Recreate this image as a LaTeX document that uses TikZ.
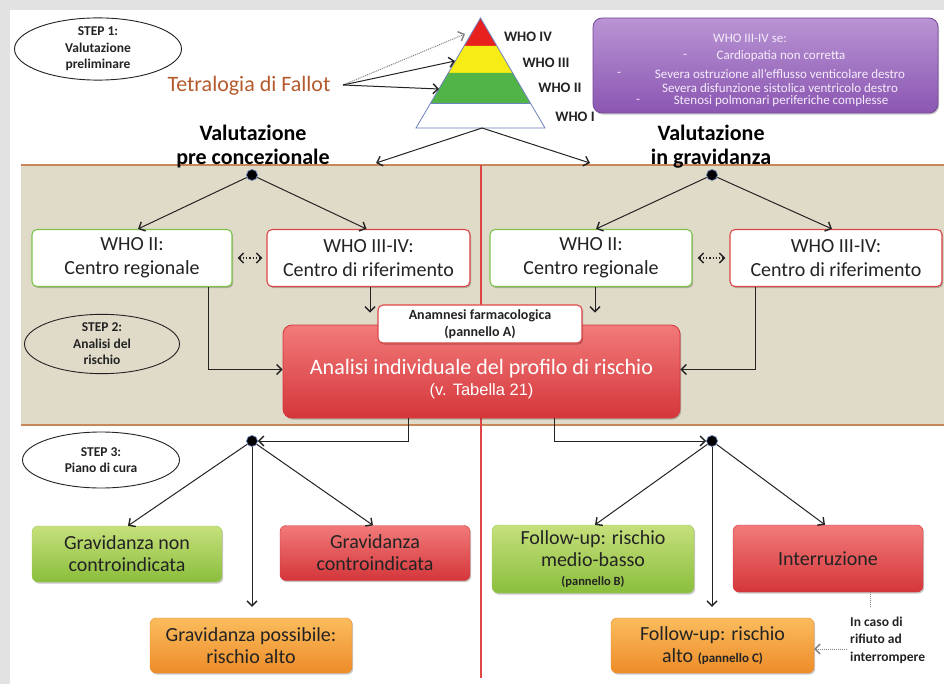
\documentclass[tikz,border=0pt]{standalone}
\usepackage{fontspec}
\setmainfont{Carlito}
\newfontfamily\arialfont{Liberation Sans}
\usetikzlibrary{arrows.meta,shadows,shapes.geometric}

\definecolor{panelgray}{RGB}{226,226,226}
\definecolor{bandfill}{RGB}{224,219,201}
\definecolor{bandline}{RGB}{200,135,90}
\definecolor{divred}{RGB}{222,70,70}
\definecolor{fallot}{RGB}{180,90,45}
\definecolor{boxgreen}{RGB}{125,195,75}
\definecolor{boxred}{RGB}{220,70,70}
\definecolor{greentop}{RGB}{198,224,124}
\definecolor{greenbot}{RGB}{138,190,60}
\definecolor{redtop}{RGB}{242,122,122}
\definecolor{redbot}{RGB}{212,54,58}
\definecolor{orangetop}{RGB}{250,188,94}
\definecolor{orangebot}{RGB}{238,140,40}
\definecolor{purptop}{RGB}{186,148,212}
\definecolor{purpbot}{RGB}{138,86,178}
\definecolor{purptext}{RGB}{245,236,250}
\definecolor{whoRed}{RGB}{232,32,30}
\definecolor{whoYellow}{RGB}{246,236,22}
\definecolor{whoGreen}{RGB}{80,180,70}
\definecolor{pyrline}{RGB}{110,130,190}
\definecolor{inkdark}{RGB}{35,35,35}

\newcommand{\fsz}[2]{\fontsize{#1}{#2}\selectfont}

\tikzset{
  ink/.style={draw=inkdark, line width=1pt},
  conn/.style={ink, -{Straight Barb[length=5pt,width=10pt,line width=1.4pt]}},
  hub/.style={circle, fill=black, draw=pyrline, line width=0.7pt, minimum size=11pt, inner sep=0pt},
  softshadow/.style={drop shadow={shadow xshift=1.2pt, shadow yshift=-1.6pt, opacity=0.22, fill=black}},
  centre/.style={rounded corners=5pt, fill=white, line width=1.1pt, minimum height=57pt,
    inner sep=0pt, align=center, text=inkdark, font=\fsz{20}{24}, softshadow},
  regional/.style={centre, draw=boxgreen},
  reference/.style={centre, draw=boxred},
  outcome/.style={rounded corners=6pt, inner sep=0pt, align=center, text=inkdark,
    font=\fsz{20}{22}, softshadow},
  okbox/.style={outcome, top color=greentop, bottom color=greenbot, draw=greenbot!80!white},
  nobox/.style={outcome, top color=redtop, bottom color=redbot, draw=redbot},
  riskbox/.style={outcome, top color=orangetop, bottom color=orangebot, draw=orangebot},
  stepoval/.style={ellipse, draw=inkdark, line width=0.9pt, inner sep=0pt, align=center,
    font=\bfseries\fsz{13.5}{16.5}, text=inkdark},
  whotag/.style={font=\bfseries\fsz{14.5}{16}, text=inkdark},
  heading/.style={font=\bfseries\fsz{22}{24}, align=center, text=black},
  infoline/.style={font=\fsz{13}{15}, text=purptext},
  twoway/.style={draw=inkdark, dotted, line width=1.3pt,
    {Straight Barb[length=5pt,width=10pt,line width=1.5pt]}-{Straight Barb[length=5pt,width=10pt,line width=1.5pt]}},
}

\begin{document}
\begin{tikzpicture}[x=1pt, y=-1pt]
\useasboundingbox (0,0) rectangle (944,684);

% page panel
\fill[panelgray] (0,0) rectangle (944,684);
\fill[white] (10,10) rectangle (944,684);

% risk-analysis band and column divider
\fill[bandfill] (21,165) rectangle (944,425);
\draw[bandline, line width=1.3pt] (21,165) -- (944,165);
\draw[bandline, line width=1.3pt] (21,425) -- (944,425);
\draw[divred, line width=1.6pt] (481,165) -- (481,678);

% ---------- step 1 ----------
\node[stepoval, minimum width=167pt, minimum height=58pt] (step1) at (98,49)
  {STEP 1:\\Valutazione\\preliminare};
\node[font=\fsz{22}{24}, text=fallot] (fallot) at (249,86) {Tetralogia di Fallot};

% WHO pyramid
\fill[whoRed] (480.5,18) -- (496.9,46) -- (464.1,46) -- cycle;
\fill[whoYellow] (464.1,46) -- (496.9,46) -- (512.75,73) -- (448.25,73) -- cycle;
\fill[whoGreen] (448.25,73) -- (512.75,73) -- (530.3,103) -- (430.7,103) -- cycle;
\draw[pyrline, line width=0.8pt] (480.5,18) -- (545,128) -- (416,128) -- cycle;
\draw[pyrline, line width=0.8pt] (430.7,103) -- (530.3,103);
\coordinate (lvIV) at (465,34);
\coordinate (lvIII) at (455,61);
\coordinate (lvII) at (439,89);
\coordinate (pyrbase) at (482,128);
\node[whotag] (tagIV) at (528,37) {WHO IV};
\node[whotag] (tagIII) at (546,63) {WHO III};
\node[whotag] (tagII) at (560,88) {WHO II};
\node[whotag] (tagI) at (575,117) {WHO I};

\coordinate (fork) at ([xshift=9pt,yshift=1pt]fallot.east);
\draw[conn, draw=gray, densely dotted] (fork) -- (lvIV);
\draw[conn] (fork) -- (lvIII);
\draw[conn] (fork) -- (lvII);

% WHO III-IV criteria
\node[rounded corners=9pt, top color=purptop, bottom color=purpbot, draw=purpbot!85!black,
      line width=0.8pt, minimum width=345pt, minimum height=95pt, softshadow] (criteria) at (765.5,65.5) {};
\node[infoline] (crit0) at (750,38) {WHO III-IV se:};
\node[infoline] (crit1) at (781,56) {Cardiopatia non corretta};
\node[infoline] (crit2) at (780,74) {Severa ostruzione all’efflusso venticolare destro};
\node[infoline] (crit3) at (780,88) {Severa disfunzione sistolica ventricolo destro};
\node[infoline] (crit4) at (781,101) {Stenosi polmonari periferiche complesse};
\node[infoline] (dash1) at (685,56) {-};
\node[infoline] (dash2) at (619,74) {-};
\node[infoline] (dash4) at (638,101) {-};

% column headings
\node[heading] (valPre) at (253,147) {Valutazione\\pre concezionale};
\node[heading] (valGrav) at (711,147) {Valutazione\\in gravidanza};
\coordinate (toPre) at (376,163);
\coordinate (toGrav) at (590,163);
\draw[conn] (pyrbase) -- (toPre);
\draw[conn] (pyrbase) -- (toGrav);

% ---------- step 2 ----------
\node[hub] (hubPre) at (252,175) {};
\node[hub] (hubGrav) at (712,175) {};

\node[regional, minimum width=200pt] (preReg) at (132,258) {WHO II:\\Centro regionale};
\node[reference, minimum width=203pt] (preRef) at (368.5,258) {WHO III-IV:\\Centro di riferimento};
\node[regional, minimum width=202pt] (gravReg) at (591,258) {WHO II:\\Centro regionale};
\node[reference, minimum width=212pt] (gravRef) at (836,258) {WHO III-IV:\\Centro di riferimento};

\draw[conn] (hubPre) -- ([xshift=6pt]preReg.north);
\draw[conn] (hubPre) -- ([xshift=-2pt]preRef.north);
\draw[conn] (hubGrav) -- ([xshift=5pt]gravReg.north);
\draw[conn] (hubGrav) -- ([xshift=-4pt]gravRef.north);

\draw[twoway] ([xshift=5pt]preReg.east) -- ([xshift=-4pt]preRef.west);
\draw[twoway] ([xshift=5pt]gravReg.east) -- ([xshift=-4pt]gravRef.west);

\node[stepoval, minimum width=155pt, minimum height=58pt] (step2) at (102,344)
  {STEP 2:\\Analisi del\\rischio};

\node[rounded corners=9pt, top color=redtop, bottom color=redbot, draw=redbot, line width=0.8pt,
      minimum width=397pt, minimum height=93pt, inner sep=0pt, align=center, text=white,
      font=\fsz{22}{22}, softshadow] (analisi) at (481.5,371.5)
  {\rule{0pt}{30pt}Analisi individuale del profilo di rischio\\[-1pt]
   {\arialfont\fsz{16.5}{18}(v. Tabella 21)}};
\node[rounded corners=5pt, fill=white, draw=boxred, line width=1.1pt, minimum width=204pt,
      minimum height=38pt, inner sep=0pt, align=center, text=inkdark,
      font=\bfseries\fsz{14}{17}, softshadow] (anamnesi) at (480,324)
  {Anamnesi farmacologica\\(pannello A)};

\draw[conn, shorten >=12pt] ([xshift=1.5pt]preRef.south) -- ([xshift=1.5pt]preRef.south |- analisi.north);
\draw[conn, shorten >=12pt] ([xshift=4pt]gravReg.south) -- ([xshift=4pt]gravReg.south |- analisi.north);
\draw[conn] ([xshift=76pt]preReg.south) |- ([yshift=2pt]analisi.west);
\draw[conn] ([xshift=-81pt]gravRef.south) |- ([yshift=2pt]analisi.east);

% ---------- step 3 ----------
\node[hub] (planPre) at (252,441) {};
\node[hub] (planGrav) at (712,441) {};
\draw[conn] ([xshift=-73.5pt]analisi.south) |- (planPre);
\draw[conn] ([xshift=72.5pt]analisi.south) |- (planGrav);

\node[stepoval, minimum width=157pt, minimum height=56pt] (step3) at (101,460)
  {STEP 3:\\Piano di cura};

\node[okbox, minimum width=190pt, minimum height=56pt] (preOk) at (127,554)
  {Gravidanza non\\controindicata};
\node[nobox, minimum width=190pt, minimum height=55pt] (preNo) at (375,553)
  {Gravidanza\\controindicata};
\node[riskbox, minimum width=202pt, minimum height=55pt] (preRisk) at (251,645.5)
  {Gravidanza possibile:\\rischio alto};

\node[okbox, minimum width=202pt, minimum height=68pt] (gravOk) at (593,559)
  {Follow-up: rischio\\medio-basso\\[-3pt]{\bfseries\fsz{12.5}{14}(pannello B)}};
\node[nobox, minimum width=190pt, minimum height=67pt] (gravStop) at (828,558.5)
  {Interruzione};
\node[riskbox, minimum width=203pt, minimum height=55pt] (gravRisk) at (712.5,645.5)
  {Follow-up: rischio\\alto {\bfseries\fsz{13}{14}(pannello C)}};

\draw[conn] (planPre) -- ([xshift=1pt]preOk.north);
\draw[conn] (planPre) -- ([xshift=-2pt]preNo.north);
\draw[conn, shorten >=11pt] (planPre) -- (planPre |- preRisk.north);
\draw[conn] (planGrav) -- ([xshift=2pt]gravOk.north);
\draw[conn] (planGrav) -- ([xshift=-3pt]gravStop.north);
\draw[conn, shorten >=11pt] (planGrav) -- (planGrav |- gravRisk.north);

% refusal to interrupt
\node[anchor=west, align=left, font=\bfseries\fsz{13.5}{17.5}, text=inkdark, inner sep=0pt]
  (refusal) at (850,640) {In caso di\\rifiuto ad\\interrompere};
\coordinate (refusalTop) at (870,607);
\draw[gray, densely dotted, line width=0.9pt] ([xshift=42pt]gravStop.south) -- (refusalTop);
\coordinate (refusalTail) at ([xshift=-3pt,yshift=-9pt]refusal.west);
\draw[conn, densely dotted, draw=gray] (refusalTail) -- (refusalTail -| gravRisk.east);
\end{tikzpicture}
\end{document}
